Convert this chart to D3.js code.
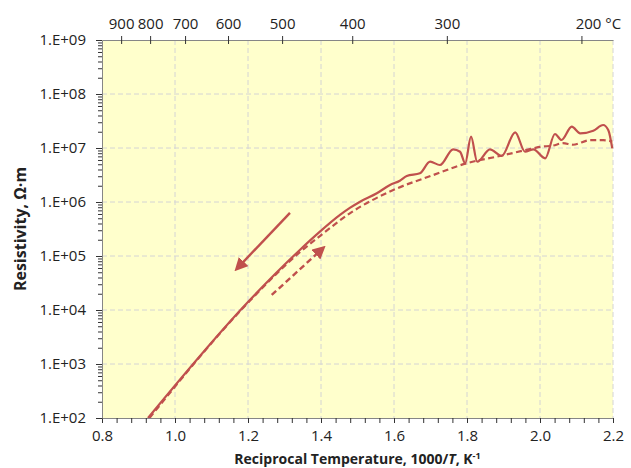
<!DOCTYPE html>
<html>
<head>
<meta charset="utf-8">
<script src="https://cdn.jsdelivr.net/npm/d3@7"></script>
<style>
  body { margin: 0; background: #fff; }
  text { font-family: "Open Sans", "Noto Sans", sans-serif; }
</style>
</head>
<body>
<div id="chart"></div>
<script>
// reading values from the picture
var solidX = [0.926, 1.205, 1.342, 1.397, 1.452, 1.479, 1.507, 1.553, 1.589, 1.616, 1.635, 1.671, 1.699, 1.726, 1.762, 1.781, 1.795, 1.811, 1.828, 1.863, 1.895, 1.932, 1.959, 1.982, 2.014, 2.041, 2.059, 2.087, 2.110, 2.146, 2.173, 2.187, 2.198];
var solidLog = [2.0, 4.185, 5.111, 5.45, 5.76, 5.89, 6.006, 6.161, 6.315, 6.394, 6.481, 6.531, 6.746, 6.685, 6.976, 6.931, 6.717, 7.209, 6.746, 6.976, 6.852, 7.291, 6.931, 6.976, 6.809, 7.259, 7.148, 7.394, 7.272, 7.320, 7.426, 7.333, 6.994];

var dashX = [0.93, 1.205, 1.342, 1.397, 1.479, 1.598, 1.708, 1.799, 1.890, 1.982, 2.0, 2.036, 2.063, 2.09, 2.137, 2.173, 2.198];
var dashLog = [2.0, 4.17, 5.07, 5.37, 5.79, 6.222, 6.5, 6.717, 6.852, 6.994, 7.02, 7.045, 7.09, 7.06, 7.145, 7.145, 7.12];

// arrows: [x0, log0, x1, log1]
var coolArrow = [1.315, 5.80, 1.173, 4.79];
var heatArrow = [1.265, 4.278, 1.402, 5.124];

var xTicks = [0.8, 1.0, 1.2, 1.4, 1.6, 1.8, 2.0, 2.2];
var yTicks = [1e2, 1e3, 1e4, 1e5, 1e6, 1e7, 1e8, 1e9];
var yTickLabels = ["1.E+02", "1.E+03", "1.E+04", "1.E+05", "1.E+06", "1.E+07", "1.E+08", "1.E+09"];
var tempC = [900, 800, 700, 600, 500, 400, 300, 200];
var tempLabels = ["900", "800", "700", "600", "500", "400", "300", "200 °C"];

var margin = { top: 40, right: 18, bottom: 50, left: 102 },
    width = 631 - margin.left - margin.right,
    height = 468 - margin.top - margin.bottom;

var red = "#C0504D";
var axCol = "#868686";

var svg = d3.select("#chart")
    .append("svg")
    .attr("width", 631)
    .attr("height", 468);

var inner = svg.append("g")
    .attr("transform", "translate(" + margin.left + "," + margin.top + ")");

var x = d3.scaleLinear().domain([0.8, 2.2]).range([0, width]);
var y = d3.scaleLog().domain([1e2, 1e9]).range([height, 0]);

// plot background
inner.append("rect")
    .attr("width", width)
    .attr("height", height)
    .attr("fill", "#FFFFCC");

// grid
inner.selectAll(".vgrid")
    .data(xTicks.slice(1))
    .enter().append("line")
    .attr("x1", function (d) { return x(d); })
    .attr("x2", function (d) { return x(d); })
    .attr("y1", 0).attr("y2", height)
    .attr("stroke", "#D4D4D4")
    .attr("stroke-dasharray", "5,3");

inner.selectAll(".hgrid")
    .data(yTicks.slice(1, -1))
    .enter().append("line")
    .attr("y1", function (d) { return y(d); })
    .attr("y2", function (d) { return y(d); })
    .attr("x1", 0).attr("x2", width)
    .attr("stroke", "#D4D4D4")
    .attr("stroke-dasharray", "5,3");

// curves
var line = d3.line()
    .x(function (d) { return x(d[0]); })
    .y(function (d) { return y(Math.pow(10, d[1])); })
    .curve(d3.curveMonotoneX);

var solid = solidX.map(function (d, i) { return [d, solidLog[i]]; });
var dashed = dashX.map(function (d, i) { return [d, dashLog[i]]; });

inner.append("path")
    .datum(dashed)
    .attr("d", line)
    .attr("fill", "none")
    .attr("stroke", red)
    .attr("stroke-width", 2.2)
    .attr("stroke-dasharray", "6,3.5");

inner.append("path")
    .datum(solid)
    .attr("d", line)
    .attr("fill", "none")
    .attr("stroke", red)
    .attr("stroke-width", 2.2);

// arrows
svg.append("defs").append("marker")
    .attr("id", "head")
    .attr("viewBox", "0 0 10 10")
    .attr("refX", 6).attr("refY", 5)
    .attr("markerWidth", 5.5).attr("markerHeight", 5.5)
    .attr("orient", "auto")
    .append("path")
    .attr("d", "M0,0 L10,5 L0,10 z")
    .attr("fill", red);

function arrow(a, dash) {
    inner.append("line")
        .attr("x1", x(a[0])).attr("y1", y(Math.pow(10, a[1])))
        .attr("x2", x(a[2])).attr("y2", y(Math.pow(10, a[3])))
        .attr("stroke", red)
        .attr("stroke-width", 2.4)
        .attr("stroke-dasharray", dash)
        .attr("marker-end", "url(#head)");
}
arrow(coolArrow, null);
arrow(heatArrow, "6,3.5");

// bottom axis
var xAxis = inner.append("g")
    .attr("transform", "translate(0," + height + ")")
    .call(d3.axisBottom(x).tickValues(d3.range(0, 36).map(function (i) { return 0.8 + i * 0.04; }))
        .tickFormat("").tickSize(5).tickSizeOuter(0));
inner.append("g")
    .attr("transform", "translate(0," + height + ")")
    .call(d3.axisBottom(x).tickValues(xTicks).tickFormat(d3.format(".1f")).tickSize(0).tickPadding(12))
    .call(function (g) { g.select(".domain").remove(); });

// left axis
var minors = [];
for (var e = 2; e < 9; e++) for (var m = 2; m < 10; m++) minors.push(m * Math.pow(10, e));
var yAxis = inner.append("g")
    .call(d3.axisLeft(y).tickValues(minors).tickFormat("").tickSize(4).tickSizeOuter(0));
inner.append("g")
    .call(d3.axisLeft(y).tickValues(yTicks).tickFormat(function (d, i) { return yTickLabels[i]; })
        .tickSize(6).tickPadding(10))
    .call(function (g) { g.select(".domain").remove(); });

// top axis (temperature °C)
var topAxis = inner.append("g")
    .call(d3.axisTop(x).tickValues(tempC.map(function (t) { return 1000 / (t + 273.15); }))
        .tickFormat(function (d, i) { return tempLabels[i]; })
        .tickSizeInner(4).tickSizeOuter(0).tickPadding(7));
topAxis.selectAll(".tick").append("line")
    .attr("y2", 4).attr("stroke", "#333");
topAxis.selectAll(".tick text").attr("dx", function (d, i) { return i == tempC.length - 1 ? "1.1em" : 0; });

[xAxis, yAxis, topAxis].forEach(function (g) {
    g.select(".domain").attr("stroke", axCol);
});
inner.selectAll(".tick line").attr("stroke", "#333");
inner.selectAll(".tick text")
    .style("font-size", "15px")
    .style("fill", "#222")
    .style("font-family", "'Open Sans', sans-serif");

// axis titles
var xt = svg.append("text")
    .attr("x", margin.left + width / 2)
    .attr("y", 464)
    .attr("text-anchor", "middle")
    .style("font-size", "14px")
    .style("font-weight", "bold")
    .style("fill", "#222");
xt.append("tspan").text("Reciprocal Temperature, 1000/");
xt.append("tspan").style("font-style", "italic").text("T");
xt.append("tspan").text(", K");
xt.append("tspan").attr("dy", "-5").style("font-size", "9px").text("-1");

svg.append("text")
    .attr("transform", "translate(26," + (margin.top + height / 2) + ") rotate(-90)")
    .attr("text-anchor", "middle")
    .style("font-size", "16px")
    .style("font-weight", "bold")
    .style("fill", "#222")
    .text("Resistivity, Ω·m");
</script>
</body>
</html>
